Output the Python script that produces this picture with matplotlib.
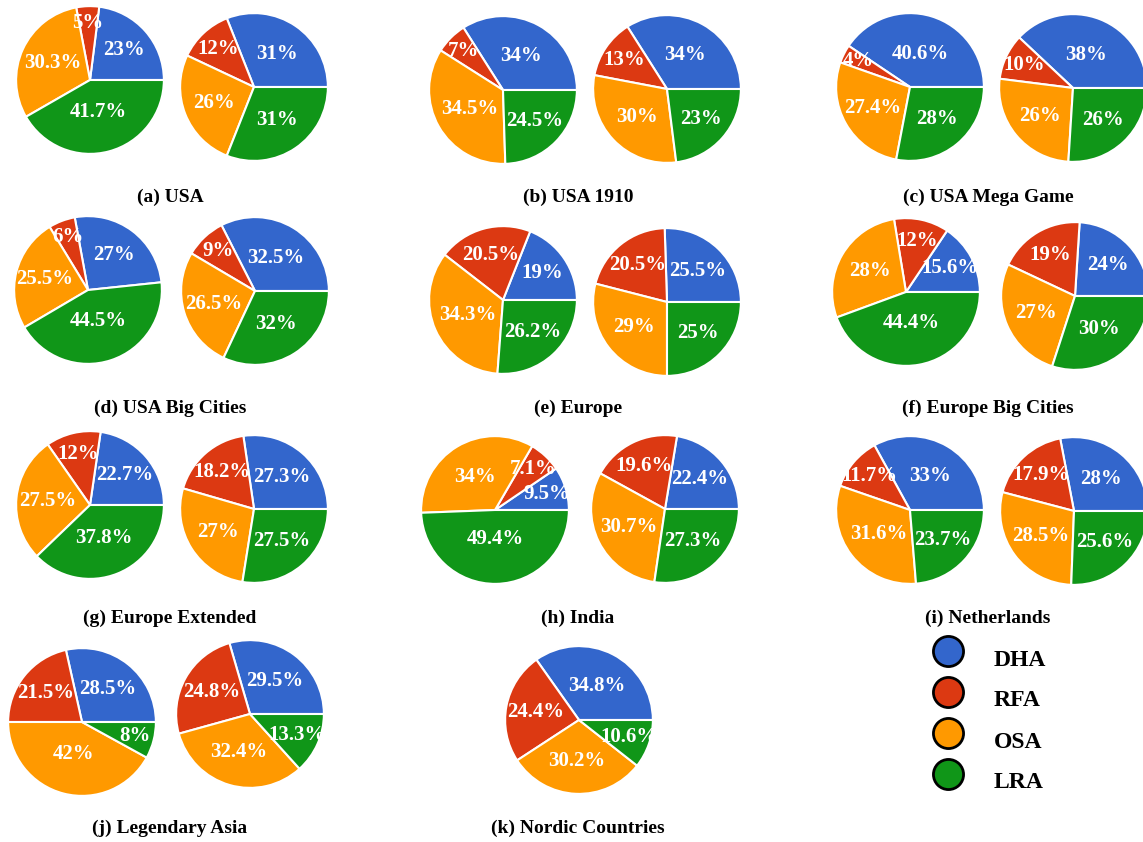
import numpy as np
import matplotlib
matplotlib.use("Agg")
import matplotlib.pyplot as plt

plt.rcParams['font.family'] = ['Liberation Serif', 'DejaVu Serif']
plt.rcParams['font.weight'] = 'bold'

# slice order: DHA, RFA, OSA, LRA (counter-clockwise from 3 o'clock)
categories = ["DHA", "RFA", "OSA", "LRA"]
colors = ["#3366CC", "#DC3912", "#FF9900", "#109618"]

usa = [[23, 5, 30.3, 41.7], [31, 12, 26, 31]]
usa_1910 = [[34, 7, 34.5, 24.5], [34, 13, 30, 23]]
usa_mega = [[40.6, 4, 27.4, 28], [38, 10, 26, 26]]
usa_big = [[27, 6, 25.5, 44.5], [32.5, 9, 26.5, 32]]
europe = [[19, 20.5, 34.3, 26.2], [25.5, 20.5, 29, 25]]
europe_big = [[15.6, 12, 28, 44.4], [24, 19, 27, 30]]
europe_ext = [[22.7, 12, 27.5, 37.8], [27.3, 18.2, 27, 27.5]]
india = [[9.5, 7.1, 34, 49.4], [22.4, 19.6, 30.7, 27.3]]
netherlands = [[33, 11.7, 31.6, 23.7], [28, 17.9, 28.5, 25.6]]
legendary_asia = [[28.5, 21.5, 42, 8], [29.5, 24.8, 32.4, 13.3]]
nordic = [[34.8, 24.4, 30.2, 10.6]]

captions = ["(a) USA", "(b) USA 1910", "(c) USA Mega Game",
            "(d) USA Big Cities", "(e) Europe", "(f) Europe Big Cities",
            "(g) Europe Extended", "(h) India", "(i) Netherlands",
            "(j) Legendary Asia", "(k) Nordic Countries"]

W, H = 1143, 842
R = 75

fig = plt.figure(figsize=(W / 100, H / 100), dpi=100)


def draw_pie(cx, cy, values, start=0):
    ax = fig.add_axes([(cx - R) / W, 1 - (cy + R) / H, 2 * R / W, 2 * R / H])
    wedges, _ = ax.pie(values, colors=colors, startangle=start, radius=0.985,
                       wedgeprops=dict(edgecolor='white', linewidth=1.5))
    ax.set_xlim(-1, 1)
    ax.set_ylim(-1, 1)
    total = sum(values)
    for w, v in zip(wedges, values):
        mid = np.deg2rad((w.theta1 + w.theta2) / 2)
        # small slices get their label pushed further out
        d = 0.8 - 0.85 * v / total
        t = ax.text(d * np.cos(mid), d * np.sin(mid), f"{v:g}%",
                    ha='center', va='center', color='white',
                    fontsize=15, fontweight='bold')
        t.set_clip_path(w)


# (centre x, centre y) of each pie in pixels
draw_pie(90, 80, usa[0]);            draw_pie(254, 87, usa[1])
draw_pie(503, 90, usa_1910[0]);      draw_pie(667, 89, usa_1910[1])
draw_pie(910, 87, usa_mega[0]);      draw_pie(1073, 88, usa_mega[1])
draw_pie(88, 290, usa_big[0], 6);    draw_pie(255, 291, usa_big[1])
draw_pie(503, 300, europe[0]);       draw_pie(667, 302, europe[1])
draw_pie(906, 292, europe_big[0]);   draw_pie(1075, 296, europe_big[1])
draw_pie(90, 505, europe_ext[0]);    draw_pie(254, 509, europe_ext[1])
draw_pie(495, 510, india[0]);        draw_pie(665, 509, india[1])
draw_pie(910, 510, netherlands[0]);  draw_pie(1074, 511, netherlands[1])
draw_pie(82, 722, legendary_asia[0]); draw_pie(250, 714, legendary_asia[1])
draw_pie(579, 720, nordic[0])

# captions and legend on a pixel-space overlay
over = fig.add_axes([0, 0, 1, 1], zorder=-1)
over.set_xlim(0, W)
over.set_ylim(H, 0)
over.axis('off')

cap_x = [170, 578, 988]
cap_y = [197, 408, 618, 828]
for i, cap in enumerate(captions):
    over.text(cap_x[i % 3], cap_y[i // 3], cap, ha='center', va='center',
              fontsize=14, fontweight='bold', color='black')

for i, (name, c) in enumerate(zip(categories, colors)):
    y = 651 + 41 * i
    over.scatter([948], [y], s=470, color=c, edgecolors='black', linewidths=2)
    over.text(994, y + 9, name, ha='left', va='center', fontsize=17,
              fontweight='bold', color='black')

fig.savefig("out.png", dpi=100)
